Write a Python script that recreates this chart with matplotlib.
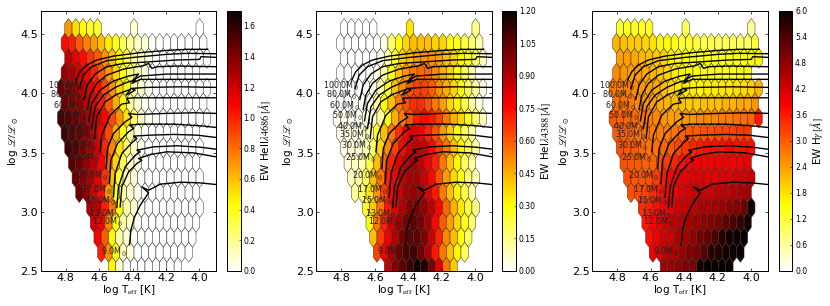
import matplotlib
matplotlib.use('Agg')
import matplotlib.pyplot as plt
from matplotlib.collections import PolyCollection

plt.rcParams['mathtext.fontset'] = 'stix'
plt.rcParams['font.size'] = 8

# Hex grid: lattice column of the first cell in each row
row_start = [0, 0, 0, 0, -1, 0, -1, 0, 0, 1, 1, 2, 3, 4, 4, 5, 6]
# top row has gaps
top_row_cols = [0, 1, 2, 3, 4, 9, 18]

# EW HeII 4686
heii = [
    [.70, .52, .42, .38, .36, .08, 0],
    [1.05, 1.0, .85, .75, .68, .60, .48, .40, .28, .18, .10, .07, .03, 0, 0, 0, 0, 0, 0, 0],
    [1.25, 1.15, 1.05, .95, .85, .72, .60, .45, .32, .18, .10, .04, 0, 0, 0, 0, 0, 0, 0, 0],
    [1.35, 1.30, 1.20, 1.10, 1.0, .85, .70, .55, .42, .25, .12, .05, 0, 0, 0, 0, 0, 0, 0],
    [1.45, 1.40, 1.35, 1.25, 1.15, 1.05, .90, .72, .55, .42, .15, .08, .03, 0, 0, 0, 0, 0, 0, 0, 0],
    [1.45, 1.40, 1.35, 1.25, 1.15, 1.02, .85, .65, .45, .18, .08, .02, 0, 0, 0, 0, 0, 0, 0, 0],
    [1.55, 1.50, 1.45, 1.38, 1.30, 1.20, 1.08, .90, .72, .50, .25, .10, .03, 0, 0, 0, 0, 0, 0, 0, 0],
    [1.55, 1.50, 1.45, 1.38, 1.25, 1.10, .90, .65, .42, .15, .05, 0, 0, 0, 0, 0, 0, 0, 0],
    [1.55, 1.50, 1.42, 1.32, 1.20, 1.0, .75, .50, .25, .10, .03, 0, 0, 0, 0, 0, 0, 0, 0],
    [1.50, 1.45, 1.35, 1.25, 1.08, .85, .55, .30, .10, .05, 0, 0, 0, 0, 0, 0, 0, 0],
    [1.45, 1.40, 1.30, 1.15, .95, .60, .35, .12, .06, 0, 0, 0, 0, 0, 0, 0, 0, 0],
    [1.45, 1.35, 1.20, 1.05, .70, .40, .15, .08, .02, 0, 0, 0, 0, 0, 0, 0, 0],
    [1.30, 1.25, 1.0, .80, .42, .15, .08, .02, 0, 0, 0, 0, 0, 0, 0, 0],
    [1.20, 1.10, .75, .42, .15, .10, .02, 0, 0, 0, 0, 0, 0, 0, 0],
    [1.10, .85, .45, .15, .08, .02, 0, 0, 0, 0, 0, 0, 0, 0],
    [1.0, .72, .40, .12, .06, 0, 0, 0, 0, 0, 0, 0, 0],
    [.45, .08, 0, 0, 0, 0, 0, 0, 0, 0],
]

# EW HeI 4388
hei = [
    [0, 0, 0, 0, 0, .35, .15],
    [0, 0, 0, 0, 0, 0, .03, .18, .30, .38, .42, .42, .42, .38, .38, .30, .28, .22, .18, .10],
    [0, 0, 0, 0, 0, .03, .10, .25, .38, .42, .48, .50, .50, .48, .42, .38, .32, .28, .20, .08],
    [0, 0, 0, 0, .01, .03, .12, .28, .42, .50, .55, .58, .58, .52, .45, .38, .30, .20, .10],
    [0, 0, 0, 0, 0, .03, .10, .25, .42, .52, .60, .65, .65, .60, .52, .45, .38, .30, .20, .12, .03],
    [0, 0, 0, 0, .03, .12, .30, .42, .55, .62, .68, .68, .62, .55, .48, .38, .32, .22, .12, .05],
    [.02, .02, .02, .02, .03, .05, .12, .30, .45, .55, .62, .72, .75, .72, .65, .55, .45, .38, .28, .18, .08],
    [.03, .03, .03, .05, .10, .25, .42, .55, .68, .78, .82, .78, .70, .62, .50, .40, .30, .20, .12],
    [.04, .05, .05, .08, .18, .38, .52, .65, .75, .85, .88, .85, .75, .65, .55, .42, .32, .22, .12],
    [.06, .08, .10, .22, .42, .58, .70, .82, .88, .92, .88, .78, .70, .55, .42, .32, .20, .12],
    [.08, .10, .20, .42, .55, .70, .78, .88, .92, .92, .85, .75, .62, .48, .38, .28, .18, .10],
    [.12, .18, .35, .50, .65, .75, .85, .92, .95, .92, .82, .72, .55, .42, .32, .22, .12],
    [.25, .40, .55, .72, .82, .90, .98, 1.0, .95, .88, .75, .58, .45, .35, .25, .15],
    [.30, .55, .70, .85, .95, 1.0, 1.05, 1.0, .92, .75, .60, .48, .38, .28, .18],
    [.42, .65, .78, .90, 1.0, 1.05, 1.05, .98, .85, .70, .52, .42, .30, .20],
    [.65, .78, .92, 1.02, 1.08, 1.10, 1.02, .90, .72, .55, .42, .32, .20],
    [.88, .98, 1.05, 1.12, 1.18, 1.15, 1.0, .82, .55, .40],
]

# EW H gamma
hgamma = [
    [1.3, 1.4, 1.3, 1.35, 1.3, 1.0, .65],
    [2.2, 2.1, 2.0, 2.0, 1.9, 1.8, 1.6, 1.5, 1.45, 1.3, 1.25, 1.15, 1.1, 1.1, 1.0, 1.0, .95, .95, .95, 1.15],
    [2.4, 2.4, 2.3, 2.2, 2.1, 2.0, 1.9, 1.7, 1.6, 1.5, 1.5, 1.4, 1.45, 1.4, 1.45, 1.4, 1.4, 1.4, 1.5, 1.6],
    [2.6, 2.5, 2.4, 2.4, 2.3, 2.2, 2.1, 1.9, 1.7, 1.6, 1.5, 1.5, 1.45, 1.45, 1.4, 1.4, 1.4, 1.4, 1.45],
    [2.7, 2.7, 2.7, 2.6, 2.5, 2.4, 2.3, 2.1, 1.9, 1.75, 1.7, 1.7, 1.6, 1.7, 1.7, 1.75, 1.75, 1.8, 1.85, 1.95, 2.2],
    [2.8, 2.8, 2.7, 2.6, 2.5, 2.4, 2.3, 2.2, 2.1, 2.1, 2.0, 2.0, 2.1, 2.1, 2.1, 2.2, 2.2, 2.3, 2.3, 2.5],
    [3.0, 2.95, 2.9, 2.9, 2.8, 2.7, 2.6, 2.5, 2.4, 2.4, 2.5, 2.5, 2.6, 2.6, 2.6, 2.7, 2.7, 2.8, 2.85, 2.9, 3.6],
    [3.0, 3.0, 2.9, 2.8, 2.8, 2.7, 2.7, 2.7, 2.8, 2.95, 3.0, 3.0, 3.1, 3.1, 3.15, 3.2, 3.2, 3.3, 3.3],
    [3.1, 3.0, 3.0, 2.9, 2.8, 2.8, 2.9, 3.0, 3.2, 3.35, 3.5, 3.6, 3.7, 3.7, 3.7, 3.8, 3.7, 3.7, 3.7],
    [3.1, 3.05, 3.0, 2.95, 2.95, 3.1, 3.3, 3.5, 3.7, 3.8, 3.9, 3.9, 3.9, 3.9, 3.9, 3.9, 3.9, 4.0],
    [3.1, 3.05, 3.05, 3.1, 3.3, 3.6, 3.8, 3.9, 4.0, 4.1, 4.1, 4.1, 4.1, 4.1, 4.1, 4.2, 4.2, 4.3],
    [3.1, 3.15, 3.2, 3.4, 3.65, 3.8, 3.95, 4.1, 4.2, 4.3, 4.3, 4.3, 4.4, 4.4, 4.5, 4.5, 4.6],
    [3.4, 3.5, 3.7, 3.85, 4.0, 4.2, 4.3, 4.4, 4.5, 4.55, 4.6, 4.7, 4.8, 4.9, 5.1, 5.9],
    [3.6, 3.8, 4.0, 4.2, 4.4, 4.5, 4.6, 4.7, 4.8, 4.9, 5.0, 5.2, 5.4, 5.6, 5.9],
    [3.7, 3.9, 4.2, 4.3, 4.5, 4.6, 4.8, 5.0, 5.2, 5.4, 5.7, 5.9, 6.0, 6.0],
    [3.95, 4.2, 4.4, 4.5, 4.7, 4.9, 5.0, 5.3, 5.7, 5.8, 5.9, 6.0, 6.0],
    [4.6, 4.7, 4.8, 4.9, 5.0, 5.9, 6.0, 6.0, 6.0, 6.0],
]

# Evolutionary tracks, log Teff and log L
track_t = [
    [4.738, 4.714, 4.674, 4.614, 4.514, 4.354, 4.194, 4.074, 3.95],
    [4.718, 4.694, 4.644, 4.554, 4.394, 4.194, 4.074, 3.898],
    [4.69, 4.67, 4.624, 4.554, 4.454, 4.294, 4.134, 3.998, 3.99, 3.898],
    [4.67, 4.654, 4.614, 4.554, 4.454, 4.334, 4.304, 4.284, 4.254, 4.134, 3.898],
    [4.662, 4.644, 4.594, 4.514, 4.424, 4.364, 4.394, 4.354, 4.194, 3.898],
    [4.644, 4.624, 4.574, 4.504, 4.424, 4.384, 4.404, 4.354, 4.154, 3.898],
    [4.628, 4.614, 4.564, 4.494, 4.414, 4.438, 4.384, 4.41, 4.314, 4.114, 3.898],
    [4.594, 4.584, 4.534, 4.464, 4.418, 4.434, 4.394, 4.194, 3.898],
    [4.558, 4.55, 4.514, 4.444, 4.404, 4.424, 4.374, 4.194, 4.034, 3.898],
    [4.538, 4.53, 4.49, 4.424, 4.394, 4.418, 4.354, 4.154, 3.994, 3.898],
    [4.514, 4.504, 4.464, 4.404, 4.374, 4.394, 4.294, 4.154, 4.014, 3.898],
    [4.494, 4.484, 4.444, 4.384, 4.354, 4.374, 4.274, 4.134, 3.994, 3.898],
    [4.474, 4.464, 4.424, 4.374, 4.344, 4.364, 4.294, 4.194, 4.034, 3.898],
    [4.418, 4.41, 4.388, 4.354, 4.304, 4.344, 4.304, 4.234, 4.114, 3.994, 3.898],
]
track_l = [
    [4.113, 4.184, 4.240, 4.283, 4.316, 4.345, 4.364, 4.373, 4.373],
    [4.042, 4.155, 4.226, 4.277, 4.305, 4.331, 4.339, 4.336],
    [3.949, 4.071, 4.164, 4.226, 4.254, 4.268, 4.283, 4.288, 4.311, 4.305],
    [3.864, 3.986, 4.085, 4.155, 4.206, 4.235, 4.254, 4.212, 4.226, 4.232, 4.226],
    [3.768, 3.915, 4.028, 4.105, 4.147, 4.164, 4.113, 4.147, 4.164, 4.164],
    [3.703, 3.887, 3.986, 4.051, 4.099, 4.113, 4.085, 4.119, 4.119, 4.119],
    [3.619, 3.802, 3.929, 3.992, 4.034, 3.986, 4.028, 4.042, 4.051, 4.056, 4.051],
    [3.506, 3.647, 3.816, 3.910, 3.921, 3.958, 3.963, 3.963, 3.963],
    [3.364, 3.534, 3.661, 3.760, 3.797, 3.831, 3.822, 3.831, 3.836, 3.831],
    [3.237, 3.435, 3.576, 3.675, 3.703, 3.732, 3.740, 3.740, 3.726, 3.712],
    [3.124, 3.322, 3.492, 3.582, 3.619, 3.639, 3.647, 3.653, 3.647, 3.627],
    [3.034, 3.209, 3.379, 3.477, 3.506, 3.520, 3.548, 3.557, 3.545, 3.528],
    [3.040, 3.209, 3.336, 3.407, 3.435, 3.449, 3.483, 3.506, 3.497, 3.463],
    [2.720, 2.842, 2.955, 3.054, 3.158, 3.209, 3.181, 3.232, 3.249, 3.243, 3.229],
]

masses = ['100.0', '80.0', '60.0', '50.0', '40.0', '35.0', '30.0', '25.0', '20.0', '17.0', '15.0', '13.0', '12.0', '9.0']
label_t = [4.908, 4.894, 4.874, 4.858, 4.828, 4.814, 4.800, 4.778, 4.734, 4.708, 4.684, 4.658, 4.644, 4.588]
label_l = [4.062, 3.992, 3.893, 3.816, 3.718, 3.653, 3.562, 3.458, 3.308, 3.189, 3.096, 2.983, 2.912, 2.658]

# grid geometry
HEX_DX = 0.04367
HEX_DY = 0.1263
TOP_T = 4.784
TOP_L = 4.55


def hex_cells():
    # centres of the cells, row by row, same mask for all panels
    polys = []
    for r, row in enumerate(heii):
        x0 = TOP_T + (HEX_DX / 2 if r % 2 else 0)
        if r == 0:
            cols = top_row_cols
        else:
            cols = range(row_start[r], row_start[r] + len(row))
        y = TOP_L - r * HEX_DY
        for k in cols:
            x = x0 - k * HEX_DX
            polys.append([(x - HEX_DX / 2, y - HEX_DY / 3), (x - HEX_DX / 2, y + HEX_DY / 3),
                          (x, y + 2 * HEX_DY / 3), (x + HEX_DX / 2, y + HEX_DY / 3),
                          (x + HEX_DX / 2, y - HEX_DY / 3), (x, y - 2 * HEX_DY / 3)])
    return polys


def draw_panel(fig, box, cbox, values, vmax, cticks, cfmt, clabel, cpad):
    ax = fig.add_axes(box)
    flat = [v for row in values for v in row]
    coll = PolyCollection(hex_cells(), array=flat, cmap='hot_r', edgecolors='#333333', linewidths=0.35)
    coll.set_clim(0, vmax)
    ax.add_collection(coll)
    for t, l in zip(track_t, track_l):
        ax.plot(t, l, color='black', lw=1.0, solid_joinstyle='round')
    for m, t, l in zip(masses, label_t, label_l):
        ax.text(t, l, m + r'M$_\odot$', fontsize=5.8, color='#222222', va='center', ha='left', clip_on=True)
    ax.set_xlim(4.95, 3.9)
    ax.set_ylim(2.5, 4.7)
    ax.set_xticks([4.8, 4.6, 4.4, 4.2, 4.0])
    ax.set_yticks([2.5, 3.0, 3.5, 4.0, 4.5])
    ax.tick_params(direction='in', top=True, right=True, length=2.5, width=0.5, labelsize=8, pad=2)
    ax.set_xlabel(r'log T$_{\rm eff}$ [K]', fontsize=7.5, labelpad=0)
    ax.set_ylabel(r'log $\mathscr{L}/\mathscr{L}_\odot$', fontsize=7.5)
    ax.yaxis.set_label_coords(-0.115, 0.5)
    for s in ax.spines.values():
        s.set_linewidth(0.7)

    cax = fig.add_axes(cbox)
    cb = fig.colorbar(coll, cax=cax)
    cb.set_ticks(cticks)
    cb.set_ticklabels([cfmt % c for c in cticks])
    cb.ax.tick_params(labelsize=5.5, length=1.5, width=0.4, pad=2, direction='in')
    cb.outline.set_linewidth(0.7)
    cb.set_label(clabel, fontsize=7.5, labelpad=cpad)


W, H = 830.0, 306.0


def box(x0, x1, y0=10.7, y1=270.7):
    return [x0 / W, 1 - y1 / H, (x1 - x0) / W, (y1 - y0) / H]


fig = plt.figure(figsize=(8.3, 3.06), dpi=100)

draw_panel(fig, box(40.7, 216), box(226.7, 240.7), heii, 1.7,
           [0.0, 0.2, 0.4, 0.6, 0.8, 1.0, 1.2, 1.4, 1.6], '%.1f',
           r'EW HeII$\lambda4686\,[\AA]$', 0.5)
draw_panel(fig, box(316.3, 492), box(502.3, 516), hei, 1.2,
           [0.0, 0.15, 0.30, 0.45, 0.60, 0.75, 0.90, 1.05, 1.20], '%.2f',
           r'EW HeI$\lambda4388\,[\AA]$', 0.5)
draw_panel(fig, box(592.3, 767.7), box(778.7, 792.3), hgamma, 6.0,
           [0.0, 0.6, 1.2, 1.8, 2.4, 3.0, 3.6, 4.2, 4.8, 5.4, 6.0], '%.1f',
           r'EW H$\gamma\,[\AA]$', 0.5)

fig.savefig('out.png', dpi=100)
